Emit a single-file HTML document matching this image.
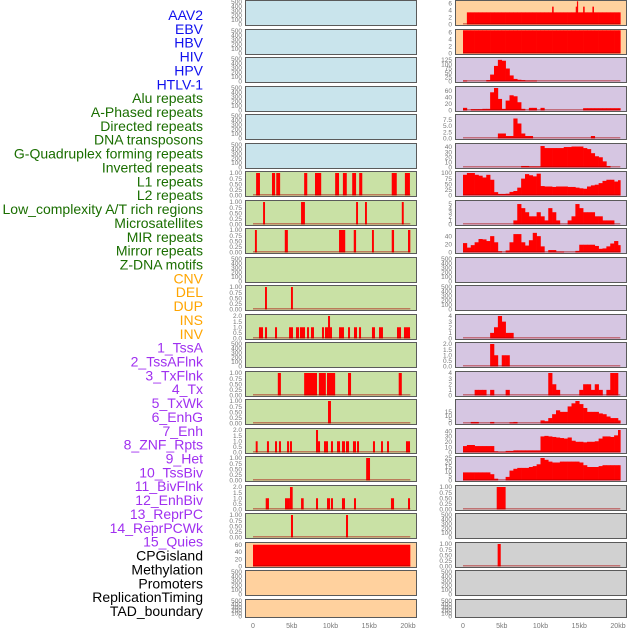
<!DOCTYPE html>
<html><head><meta charset="utf-8">
<style>
html,body{margin:0;padding:0;background:#fff;}
svg{display:block;font-family:"Liberation Sans",sans-serif;}
</style></head>
<body>
<svg id="chart" width="630" height="630" viewBox="0 0 630 630" xmlns="http://www.w3.org/2000/svg"></svg>
<script>
// ---- labels ----
const labelNames = ["AAV2","EBV","HBV","HIV","HPV","HTLV-1","Alu repeats","A-Phased repeats","Directed repeats","DNA transposons","G-Quadruplex forming repeats","Inverted repeats","L1 repeats","L2 repeats","Low_complexity A/T rich regions","Microsatellites","MIR repeats","Mirror repeats","Z-DNA motifs","CNV","DEL","DUP","INS","INV","1_TssA","2_TssAFlnk","3_TxFlnk","4_Tx","5_TxWk","6_EnhG","7_Enh","8_ZNF_Rpts","9_Het","10_TssBiv","11_BivFlnk","12_EnhBiv","13_ReprPC","14_ReprPCWk","15_Quies","CPGisland","Methylation","Promoters","ReplicationTiming","TAD_boundary"];
const labelGroups = [6,13,5,15,5];
const groupColors = ["#1010ee","#1a6e00","#ffa500","#a030f0","#000000"];
const bgColors = {blue:"#c9e4ec",green:"#c9e1a5",orange:"#ffd19e",purple:"#d6c6e2",gray:"#d1d1d1"};

// ---- tick sets ----
const T500=["0","100","200","300","400","500"];
const T1=["0.00","0.25","0.50","0.75","1.00"];
const T2=["0.0","0.5","1.0","1.5","2.0"];
const T60=["0","20","40","60"];
const T6=["0","2","4","6"];
const T125=["0","25","50","75","100","125"];
const T75=["0.0","2.5","5.0","7.5"];
const T40=["0","10","20","30","40"];
const T100=["0","25","50","75","100"];
const T5=["0","1","2","3","4","5"];
const T40b=["0","20","40"];
const T4=["0","1","2","3","4"];
const T15=["0","5","10","15"];
const T25=["0","5","10","15","20","25"];
const xTicks=[0,5,10,15,20];
const xTickLabels=["0","5kb","10kb","15kb","20kb"];

// ---- left column data: bars [startKb, endKb, value] ----
const aluBars=[[0.4,0.9,1],[2.45,2.85,1],[3.0,3.5,1],[6.6,7.0,1],[8.0,8.8,1],[10.6,11.1,1],[11.6,12.1,1],[12.8,13.3,1],[13.7,14.1,1],[17.9,18.55,1],[19.6,20.25,1]];
const aphasedBars=[[1.3,1.55,1],[6.2,6.7,1],[13.3,13.55,1],[14.45,14.7,1],[19.2,19.45,1]];
const directedBars=[[0.25,0.5,1],[4.1,4.5,1],[11.1,11.9,1],[13.0,13.3,1],[15.35,15.6,1],[17.9,18.2,1],[20.0,20.3,1]];
const gquadBars=[[1.55,1.8,1],[4.9,5.15,1]];
const invertedBars=[[0.77,1.29,1],[1.55,1.81,1],[2.84,3.1,1],[4.65,5.16,1],[5.55,5.94,1],[6.06,6.71,1],[6.97,7.23,1],[7.48,7.87,1],[8.9,9.16,1],[9.29,9.68,1],[9.68,9.94,2],[9.94,10.19,1],[11.1,11.74,1],[12.26,12.52,1],[13.03,13.42,1],[13.68,13.94,1],[15.35,15.74,1],[16.26,16.77,1],[18.58,19.1,1],[19.48,20.26,1]];
const l2Bars=[[3.2,3.6,1],[6.6,8.26,1],[8.5,9.4,1],[9.55,10.6,1],[12.26,12.65,1],[18.8,19.2,1]];
const lowcompBars=[[9.68,10.06,1]];
const microBars=[[0.35,0.6,1],[1.8,2.06,1],[2.84,3.1,1],[3.35,3.61,1],[4.39,4.65,1],[4.77,5.03,1],[8.13,8.39,2],[8.39,8.65,1],[9.16,9.68,1],[10.06,10.32,1],[10.84,11.23,1],[11.48,11.87,1],[12.0,12.39,1],[12.9,13.29,1],[13.42,13.68,1],[15.48,15.74,1],[16.52,16.77,1],[17.29,17.55,1],[19.74,20.26,1]];
const mirBars=[[14.6,15.1,1]];
const mirrorBars=[[1.64,2.06,1],[4.13,4.77,1],[4.77,5.12,2],[6.2,6.54,1],[8.13,8.39,1],[9.55,9.94,1],[10.06,10.32,1],[11.48,11.87,1],[13.03,13.29,1],[17.8,18.2,1],[20.0,20.26,1]];
const zdnaBars=[[4.9,5.16,1],[12.0,12.26,1]];
const cnvBars=[[0,20.3,60]];

// ---- right column data: area values per 0.5kb bin ----
const insArea=[0,3.4,3.4,3.4,3.4,3.4,3.4,3.4,3.4,3.4,3.4,3.4,3.4,3.4,3.4,3.4,3.4,3.4,3.4,3.4,3.4,3.4,3.4,3.4,3.4,3.4,3.4,3.4,3.4,3.4,3.4,3.4,3.4,3.4,3.4,3.4,3.4,3.4,3.4,3.4,3.4];
const insSpikes=[[11.5,11.7,5],[14.55,14.7,5],[14.7,14.85,6.5],[15.5,15.7,5],[16.7,16.9,5]];
const invArea=[6.5,6.5,6.5,6.5,6.5,6.5,6.5,6.5,6.5,6.5,6.5,6.5,6.5,6.5,6.5,6.5,6.5,6.5,6.5,6.5,6.5,6.5,6.5,6.5,6.5,6.5,6.5,6.5,6.5,6.5,6.5,6.5,6.5,6.5,6.5,6.5,6.5,6.5,6.5,6.5,6.5];
const tssAArea=[5,0,0,0,0,0,8,40,90,125,120,75,35,15,10,8,5,5,5,0,0,0,0,0,0,0,0,0,0,0,0,0,0,0,0,0,0,0,0,0,0];
const tssAFlnkArea=[8,0,4,4,4,5,5,55,68,35,5,30,46,43,25,5,0,8,8,0,8,0,0,0,0,0,0,0,0,0,0,7,7,7,7,7,7,7,7,7,7];
const txFlnkArea=[0,0,0,0,0,0,0,0,0,2,2,1,1,8,6,2,1,1,0,0,0,0,0,0,0,0,0,0,0,0,0,0,0,1,0,0,0,0,0,0,0];
const txArea=[0,0,0,0,0,0,0,0,0,0,0,0,0,0,0,3,3,2,2,2,42,38,38,38,38,38,40,40,41,41,41,38,36,28,22,20,12,3,0,0,0];
const txWkArea=[92,100,100,92,88,80,92,70,15,7,7,8,16,20,35,75,95,90,85,97,42,40,40,38,40,40,40,38,38,35,32,30,40,45,48,55,65,70,70,62,68];
const enhGArea=[0,0,0,0,0,0,0,0,0,0,0,0,0,1,5,4,3,2,2,3,2,1,4,3,1,0,0,1,2,5,4,3,3,3,2,2,1,1,1,0,0];
const enhArea=[23,12,18,25,33,32,28,40,25,3,0,5,25,45,45,25,17,30,48,40,15,0,6,6,2,2,0,0,0,4,19,19,19,19,16,9,10,15,22,28,18];
const hetArea=[0,0,0,0,0,0,0,1,2,4,3,1,1,0,0,0,0,0,0,0,0,0,0,0,0,0,0,0,0,0,0,0,0,0,0,0,0,0,0,0,0];
const tssBivArea=[0,0,0,0,0,0,0,2,1,0,1,1,0,0,0,0,0,0,0,0,0,0,0,0,0,0,0,0,0,0,0,0,0,0,0,0,0,0,0,0,0];
const bivFlnkArea=[0,0,0,1,1,1,0,1,0,0,0,1,0,0,0,0,0,0,0,0,0,0,4,2,1,0,0,0,0,0,1,2,2,1,2,1,0,1,4,4,0];
const enhBivArea=[0,0,2,2,0,0,0,2,0,0,0,0,1.5,2,0,0,0,0,0,0,4,3,7,12,17,15,15,22,26,29,25,20,15,15,15,13,12,9,7,7,4];
const reprPCArea=[12,14,14,12,12,12,12,12,2,1,1,3,3,4,4,4,4,4,4,4,30,31,30,29,28,27,26,28,22,20,20,19,20,20,21,26,30,30,29,32,42];
const reprPCWkArea=[9,9,9,9,9,9,9,7,2,0,0,4,11,13,14,14,14,15,16,18,25,23,21,20,20,21,21,21,21,21,20,17,15,15,15,16,17,17,17,17,17];
const cpgBars=[[4.35,5.5,1]];
const promBars=[[4.47,4.87,1]];

// ---- panel specs (col, row, bg, ticks, ymax, series) ----
const panels=[
 ["L",0,"blue",T500,500,null,null],["L",1,"blue",T500,500,null,null],["L",2,"blue",T500,500,null,null],
 ["L",3,"blue",T500,500,null,null],["L",4,"blue",T500,500,null,null],["L",5,"blue",T500,500,null,null],
 ["L",6,"green",T1,1,aluBars,null],["L",7,"green",T1,1,aphasedBars,null],["L",8,"green",T1,1,directedBars,null],
 ["L",9,"green",T500,500,null,null],["L",10,"green",T1,1,gquadBars,null],["L",11,"green",T2,2,invertedBars,null],
 ["L",12,"green",T500,500,null,null],["L",13,"green",T1,1,l2Bars,null],["L",14,"green",T1,1,lowcompBars,null],
 ["L",15,"green",T2,2,microBars,null],["L",16,"green",T1,1,mirBars,null],["L",17,"green",T2,2,mirrorBars,null],
 ["L",18,"green",T1,1,zdnaBars,null],["L",19,"orange",T60,62,cnvBars,null],["L",20,"orange",T500,500,null,null],
 ["L",21,"orange",T500,500,null,null],
 ["R",0,"orange",T6,6.3,insSpikes,insArea],["R",1,"orange",T6,6.3,null,invArea],["R",2,"purple",T125,130,null,tssAArea],
 ["R",3,"purple",T60,68,null,tssAFlnkArea],["R",4,"purple",T75,9,null,txFlnkArea],["R",5,"purple",T40,44,null,txArea],
 ["R",6,"purple",T100,100,null,txWkArea],["R",7,"purple",T5,5.5,null,enhGArea],["R",8,"purple",T40b,55,null,enhArea],
 ["R",9,"purple",T500,500,null,null],["R",10,"purple",T500,500,null,null],["R",11,"purple",T4,4,null,hetArea],
 ["R",12,"purple",T2,2,null,tssBivArea],["R",13,"purple",T4,4,null,bivFlnkArea],["R",14,"purple",T15,29,null,enhBivArea],
 ["R",15,"purple",T40,42,null,reprPCArea],["R",16,"purple",T25,25,null,reprPCWkArea],["R",17,"gray",T1,1,cpgBars,null],
 ["R",18,"gray",T500,500,null,null],["R",19,"gray",T1,1,promBars,null],["R",20,"gray",T500,500,null,null],
 ["R",21,"gray",T500,500,null,null]
];

const NS="http://www.w3.org/2000/svg";
const svg=document.getElementById("chart");
function mk(tag,attrs,parent){const e=document.createElementNS(NS,tag);for(const k in attrs)e.setAttribute(k,attrs[k]);(parent||svg).appendChild(e);return e;}

// labels
let li=0;
labelGroups.forEach((n,g)=>{for(let j=0;j<n;j++){
  const t=mk("text",{x:203,y:20+li*13.86,"text-anchor":"end","font-size":"14",fill:groupColors[g]});
  t.textContent=labelNames[li];
  
  
  li++;}});

const PX_PER_KB=7.75, DATA_END=20.3;
const colGeom={L:{left:245,right:416,x0:253,tickX:242},R:{left:455,right:626,x0:463,tickX:452}};

panels.forEach(p=>{
  const [col,row,bg,ticks,ymax,bars,area]=p;
  const g=colGeom[col];
  const top=Math.round(row*28.52);
  const h=row===21?18:25;
  const grp=mk("g",{});
  
  
  const xs=kb=>g.x0+kb*PX_PER_KB;
  const y0=top+h-0.5, y1=top+2;
  const ys=v=>y0-(v/ymax)*(y0-y1);
  const r=mk("rect",{x:g.left+0.5,y:top+0.5,width:g.right-g.left,height:h,fill:bgColors[bg],stroke:"#5a5a5a","stroke-width":1},grp);
  
  
  // y ticks
  ticks.forEach(tl=>{
    const v=parseFloat(tl);
    const t=mk("text",{x:g.tickX,y:ys(v)+2.2,"text-anchor":"end","font-size":"6.5",fill:"#777"},grp);
    t.textContent=tl;
    
    
  });
  const clip=v=>Math.min(v,ymax*1.08);
  if(area){
    area.forEach((v,k)=>{
      if(v<=0)return;
      const s=k*0.5,e=Math.min(k*0.5+0.5,DATA_END);
      const yy=Math.max(ys(clip(v)),top+0.5);
      const b=mk("rect",{x:xs(s),y:yy,width:xs(e)-xs(s)+0.3,height:y0-yy,fill:"#ff0000"},grp);
      
      
    });
  }
  if(bars){
    bars.forEach(d=>{
      const yy=Math.max(ys(clip(d[2])),top+0.5);
      const b=mk("rect",{x:xs(d[0]),y:yy,width:Math.max(xs(d[1])-xs(d[0]),1.2),height:y0-yy,fill:"#ff0000"},grp);
      
      
    });
  }
  if(bars||area){
    const bl=mk("rect",{x:xs(0),y:y0-1.5,width:xs(DATA_END)-xs(0),height:1.5,fill:"rgba(170,0,0,0.45)"},grp);
    
    
  }
});

// x axes
["L","R"].forEach(c=>{
  const g=colGeom[c];
  xTicks.forEach((v,i)=>{
    const t=mk("text",{x:g.x0+v*PX_PER_KB,y:628,"text-anchor":"middle","font-size":"7",fill:"#777"});
    t.textContent=xTickLabels[i];
    
    
  });
});
</script>
</body></html>
